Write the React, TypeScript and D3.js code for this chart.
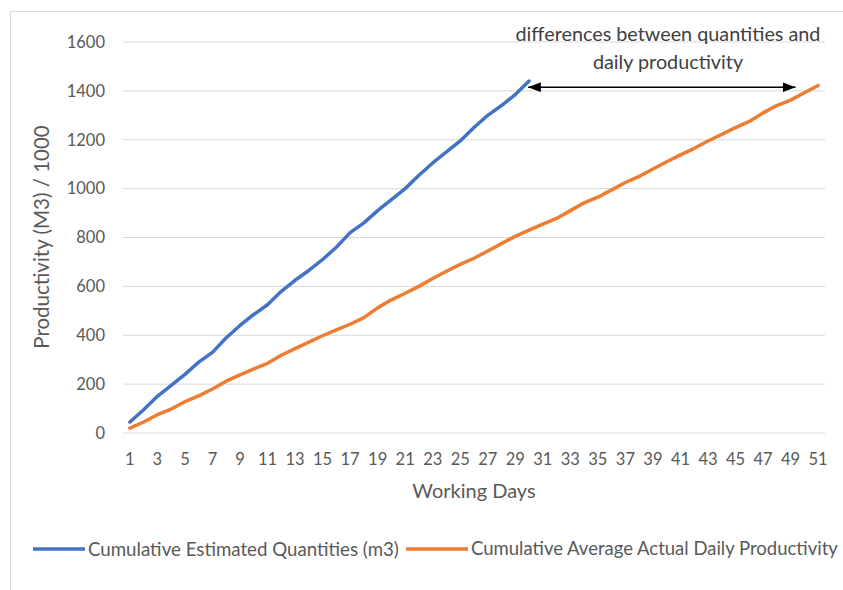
import React from "react";
import * as d3 from "d3";

const days: number[] = Array.from({ length: 51 }, (_, i) => i + 1);
const estimated: number[] = [45, 95, 150, 195, 240, 290, 330, 390, 440, 485, 525, 580, 625, 665, 710, 760, 820, 860, 910, 955, 1000, 1055, 1105, 1150, 1195, 1250, 1300, 1340, 1385, 1440];
const actual: number[] = [20, 45, 75, 98, 128, 152, 180, 212, 238, 262, 285, 318, 345, 372, 398, 422, 445, 472, 512, 545, 572, 600, 632, 662, 690, 715, 745, 775, 805, 830, 855, 878, 910, 942, 965, 995, 1025, 1050, 1080, 1110, 1138, 1165, 1195, 1222, 1250, 1275, 1310, 1340, 1362, 1392, 1422];
const yTicks: number[] = [0, 200, 400, 600, 800, 1000, 1200, 1400, 1600];
const seriesNames: string[] = ["Cumulative Estimated Quantities (m3)", "Cumulative Average Actual Daily Productivity"];
const annotation: string[] = ["differences between quantities and", "daily productivity"];

const W = 843, H = 590;
const FONT = "Lato, 'Open Sans', sans-serif";
const TXT = "#595959";

export default function App() {
  const left = 123, right = 825, top = 42, bottom = 433;
  const x = d3.scaleBand<number>().domain(days).range([left, right]);
  const cx = (d: number) => (x(d) as number) + x.bandwidth() / 2;
  const y = d3.scaleLinear().domain([0, 1600]).range([bottom, top]);
  const line = d3.line<number>().x((_, i) => cx(days[i])).y((v) => y(v));

  const arrowY = y(1415);
  const ax1 = cx(30) - 1;
  const ax2 = cx(49) + 5;

  return (
    <div style={{ position: "fixed", left: 0, top: 0 }}>
      <svg width={W} height={H} style={{ display: "block", background: "#fff" }}>
        <defs>
          <marker id="ah" viewBox="0 0 10 10" refX="10" refY="5" markerWidth="8.5" markerHeight="6.5" orient="auto-start-reverse" preserveAspectRatio="none">
            <path d="M0,0 L10,5 L0,10 z" fill="#000" />
          </marker>
        </defs>
        <rect x={10.5} y={11.5} width={845} height={600} fill="none" stroke="#d9d9d9" />
        {yTicks.map((t) => (
          <g key={t}>
            <line x1={left} x2={right} y1={y(t)} y2={y(t)} stroke="#d9d9d9" strokeWidth={1} />
            <text x={105} y={y(t)} dy="0.35em" textAnchor="end" fontFamily={FONT} fontSize={16.5} fill={TXT}>{t}</text>
          </g>
        ))}
        {days.filter((d) => d % 2 === 1).map((d) => (
          <text key={d} x={cx(d)} y={465} textAnchor="middle" fontFamily={FONT} fontSize={16.5} fill={TXT}>{d}</text>
        ))}
        <text x={474} y={498} textAnchor="middle" fontFamily={FONT} fontSize={20} fill={TXT}>Working Days</text>
        <text transform={`translate(49,237) rotate(-90)`} textAnchor="middle" fontFamily={FONT} fontSize={20.5} fill={TXT}>Productivity (M3) / 1000</text>
        <path d={line(actual) || ""} fill="none" stroke="#ED7D31" strokeWidth={3.5} strokeLinejoin="round" strokeLinecap="round" />
        <path d={line(estimated) || ""} fill="none" stroke="#4472C4" strokeWidth={3.5} strokeLinejoin="round" strokeLinecap="round" />
        <line x1={ax1} x2={ax2} y1={arrowY} y2={arrowY} stroke="#000" strokeWidth={1.5} markerStart="url(#ah)" markerEnd="url(#ah)" />
        {annotation.map((s, i) => (
          <text key={i} x={668} y={41 + i * 28} textAnchor="middle" fontFamily={FONT} fontSize={19.8} fill="#404040">{s}</text>
        ))}
        <line x1={33} x2={85} y1={549} y2={549} stroke="#4472C4" strokeWidth={3.5} />
        <text x={88} y={549} dy="0.35em" fontFamily={FONT} fontSize={18.7} fill={TXT}>{seriesNames[0]}</text>
        <line x1={406} x2={468} y1={549} y2={549} stroke="#ED7D31" strokeWidth={3.5} />
        <text x={471} y={549} dy="0.35em" fontFamily={FONT} fontSize={18.5} fill={TXT}>{seriesNames[1]}</text>
      </svg>
    </div>
  );
}
